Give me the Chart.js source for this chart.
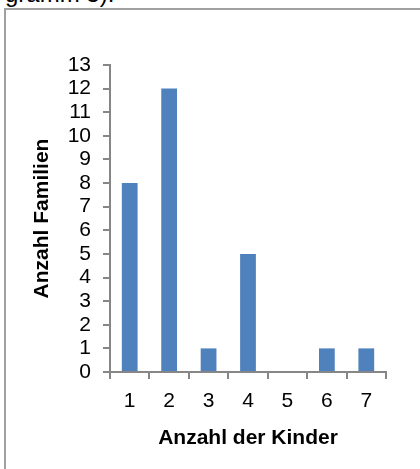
<!DOCTYPE html>
<html>
<head>
<meta charset="utf-8">
<script src="https://cdn.jsdelivr.net/npm/chart.js@4"></script>
<style>
  html, body { margin: 0; padding: 0; background: #fff; }
  body { width: 420px; height: 469px; position: relative; overflow: hidden; font-family: "Liberation Sans", Arial, sans-serif; }
  #caption { position: absolute; left: 5px; top: -18px; font-size: 24px; line-height: 24px; color: #000; }
  #frame { position: absolute; left: 4px; top: 8px; width: 600px; height: 700px; border: 2px solid #a0a0a0; }
  #wrap { position: absolute; left: 0; top: 0; width: 420px; height: 469px; }
</style>
</head>
<body>
<div id="caption">gramm 3).</div>
<div id="frame"></div>
<div id="wrap"><canvas id="chart"></canvas></div>
<script>
// Werte aus dem Diagramm
const kinder = ['1', '2', '3', '4', '5', '6', '7'];
const familien = [8, 12, 1, 5, 0, 1, 1];
const yTicks = [0, 1, 2, 3, 4, 5, 6, 7, 8, 9, 10, 11, 12, 13];

const axisGrey = '#868686';

const ctx = document.getElementById('chart').getContext('2d');
new Chart(ctx, {
    type: 'bar',
    data: {
        labels: kinder,
        datasets: [{
            label: 'Anzahl Familien',
            data: familien,
            backgroundColor: '#4F81BD',
            barPercentage: 0.4,
            categoryPercentage: 1.0
        }]
    },
    options: {
        responsive: true,
        maintainAspectRatio: false,
        animation: false,
        layout: { padding: { top: 65, right: 34, bottom: 0, left: 0 } },
        plugins: {
            legend: { display: false },
            tooltip: { enabled: false }
        },
        scales: {
            x: {
                grid: { display: true, drawOnChartArea: false, offset: true, tickLength: 7, color: axisGrey, lineWidth: 2 },
                border: { color: axisGrey, width: 2 },
                ticks: { color: '#000', font: { family: 'Liberation Sans', size: 21 }, padding: 10 },
                title: { display: true, text: 'Anzahl der Kinder', color: '#000', font: { family: 'Liberation Sans', size: 21, weight: 'bold' }, padding: { top: 0, bottom: 18 } },
                afterFit: scale => { scale.height = 97; }
            },
            y: {
                min: 0,
                max: 13,
                afterBuildTicks: scale => { scale.ticks = yTicks.map(v => ({ value: v })); },
                grid: { display: true, drawOnChartArea: false, tickLength: 7, color: axisGrey, lineWidth: 2 },
                border: { color: axisGrey, width: 2 },
                ticks: { color: '#000', font: { family: 'Liberation Sans', size: 21 }, padding: 12, autoSkip: false },
                title: { display: true, text: 'Anzahl Familien', color: '#000', font: { family: 'Liberation Sans', size: 21, weight: 'bold' }, padding: { top: 30, bottom: 0 } },
                afterFit: scale => { scale.width = 110; }
            }
        }
    }
});
</script>
</body>
</html>
